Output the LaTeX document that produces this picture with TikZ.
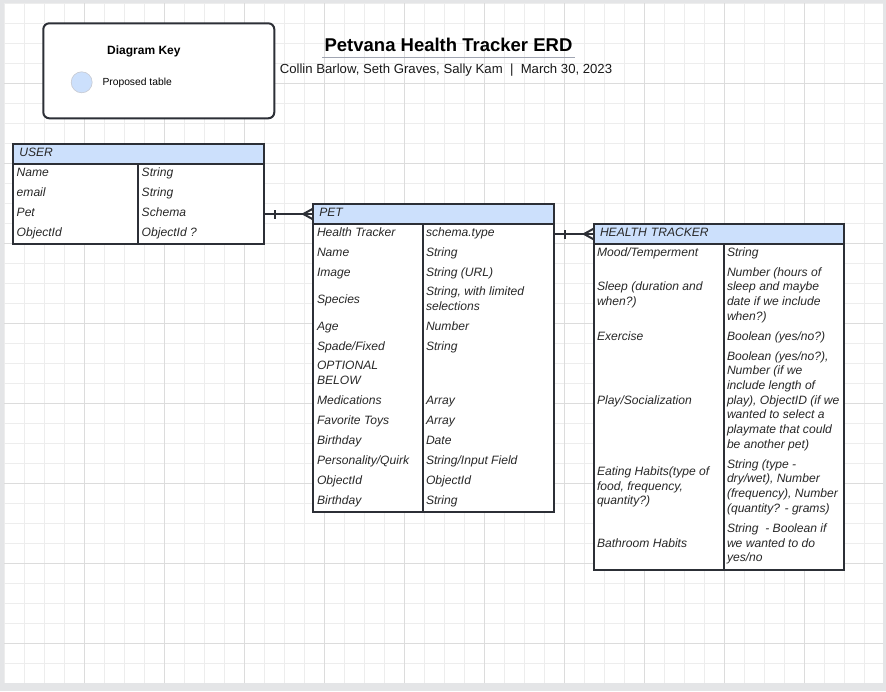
\documentclass[tikz,border=0pt]{standalone}
\usepackage{fontspec}
\setmainfont{Liberation Sans}
\usetikzlibrary{decorations.markings,positioning}

\definecolor{headblue}{RGB}{204,224,252}
\definecolor{linedark}{RGB}{44,47,54}
\definecolor{textdark}{RGB}{40,40,40}
\definecolor{pagegray}{RGB}{228,229,231}
\definecolor{gridlight}{RGB}{237,237,237}
\definecolor{griddark}{RGB}{220,220,220}
\definecolor{rulegray}{RGB}{160,165,178}
\newcommand{\erdfont}{\fontsize{12.1}{14.67}\selectfont\itshape}

\begin{document}
\begin{tikzpicture}[x=1pt,y=-1pt]
\tikzstyle{gridminor}=[draw=gridlight, line width=1pt]
\tikzstyle{gridmajor}=[draw=griddark, line width=1pt]
\tikzstyle{keybox}=[draw=linedark, line width=2pt, fill=white, rectangle, rounded corners=6pt, outer sep=0pt]
\tikzstyle{keycircle}=[draw=rulegray!60, line width=0.6pt, fill=headblue, circle, minimum size=21pt, inner sep=0pt]
\tikzstyle{tablehead}=[draw=linedark, line width=2pt, fill=headblue, rectangle, anchor=north west, outer sep=0pt, inner xsep=6pt, inner ysep=0pt, minimum height=20pt, align=left, font=\erdfont, text=textdark, execute at begin node=\strut]
\tikzstyle{tablecol}=[draw=linedark, line width=2pt, fill=white, rectangle, anchor=north west, outer sep=0pt, inner sep=0pt]
\tikzstyle{cell}=[anchor=west, inner sep=0pt, outer sep=0pt, align=left, font=\erdfont, text=textdark, execute at begin node=\strut, execute at end node=\strut]
\tikzstyle{onemany}=[draw=linedark, line width=2pt, decoration={markings, mark=at position 10.5pt with {\draw[linedark, line width=2pt] (0pt,-4.5pt) -- (0pt,4.5pt);}, mark=at position 1 with {\draw[linedark, line width=2pt] (-10pt,0pt) -- (0pt,5.5pt) (-10pt,0pt) -- (0pt,-5.5pt);}}, postaction={decorate}]

\useasboundingbox (0,0) rectangle (886,691);
\fill[pagegray] (0,0) rectangle (886,691);
\fill[white] (4,3.3) rectangle (883,683);
\foreach \gx in {0,...,43} {\draw[gridminor] ({4+20*\gx},3.3) -- ({4+20*\gx},683);}
\foreach \gy in {0,...,33} {\draw[gridminor] (4,{3.3+20*\gy}) -- (883,{3.3+20*\gy});}
\foreach \gx in {1,...,10} {\draw[gridmajor] ({4+80*\gx},3.3) -- ({4+80*\gx},683);}
\foreach \gy in {1,...,8} {\draw[gridmajor] (4,{3.3+80*\gy}) -- (883,{3.3+80*\gy});}

\node[keybox, minimum width=231pt, minimum height=95pt] (key) at (158.8,70.8) {};
\node[font=\bfseries\fontsize{12}{14}\selectfont, anchor=base, inner sep=0pt, text=black] (keytitle) at (143.9,54.3) {Diagram Key};
\node[keycircle] (sample) at (81.7,82.3) {};
\node[font=\fontsize{10.3}{12}\selectfont, anchor=base west, inner sep=0pt, text=black] (samplelabel) at (102.3,85.3) {Proposed table};

\node[font=\bfseries\fontsize{18.5}{22}\selectfont, inner xsep=2pt, inner ysep=0pt, text=black] (title) at (448.5,44.5) {Petvana Health Tracker ERD};
\draw[rulegray, line width=1.5pt] ([yshift=-6pt]title.south west) -- ([yshift=-6pt]title.south east);
\node[font=\fontsize{13.15}{15}\selectfont, anchor=base, inner sep=0pt, text=black!90] (authors) at (446,73.3) {Collin Barlow, Seth Graves, Sally Kam~~|~~March 30, 2023};

\node[tablehead, text width=239pt] (userhead) at (13.3,144) {USER};
\node[tablecol, minimum width=125pt, minimum height=80pt] (userkeys) at (userhead.south west) {};
\node[tablecol, minimum width=126pt, minimum height=80pt] (usertypes) at (userkeys.north east) {};
\node[cell] (uk1) at (16.7,174) {Name};
\node[cell] (ut1) at (141.7,174) {String};
\node[cell] (uk2) at (16.7,194) {email};
\node[cell] (ut2) at (141.7,194) {String};
\node[cell] (uk3) at (16.7,214) {Pet};
\node[cell] (ut3) at (141.7,214) {Schema};
\node[cell] (uk4) at (16.7,234) {ObjectId};
\node[cell] (ut4) at (141.7,234) {ObjectId ?};

\node[tablehead, text width=228.7pt] (pethead) at (313.3,204) {PET};
\node[tablecol, minimum width=109.4pt, minimum height=288pt] (petkeys) at (pethead.south west) {};
\node[tablecol, minimum width=131.3pt, minimum height=288pt] (pettypes) at (petkeys.north east) {};
\node[cell] (pk1) at (317,234) {Health Tracker};
\node[cell] (pt1) at (426,234) {schema.type};
\node[cell] (pk2) at (317,254) {Name};
\node[cell] (pt2) at (426,254) {String};
\node[cell] (pk3) at (317,274) {Image};
\node[cell] (pt3) at (426,274) {String (URL)};
\node[cell] (pk4) at (317,301) {Species};
\node[cell] (pt4) at (426,301) {String, with limited\\selections};
\node[cell] (pk5) at (317,328) {Age};
\node[cell] (pt5) at (426,328) {Number};
\node[cell] (pk6) at (317,348) {Spade/Fixed};
\node[cell] (pt6) at (426,348) {String};
\node[cell] (pk7) at (317,375) {OPTIONAL\\BELOW};
\node[cell] (pk8) at (317,402) {Medications};
\node[cell] (pt8) at (426,402) {Array};
\node[cell] (pk9) at (317,422) {Favorite Toys};
\node[cell] (pt9) at (426,422) {Array};
\node[cell] (pk10) at (317,442) {Birthday};
\node[cell] (pt10) at (426,442) {Date};
\node[cell] (pk11) at (317,462) {Personality/Quirk};
\node[cell] (pt11) at (426,462) {String/Input Field};
\node[cell] (pk12) at (317,482) {ObjectId};
\node[cell] (pt12) at (426,482) {ObjectId};
\node[cell] (pk13) at (317,502) {Birthday};
\node[cell] (pt13) at (426,502) {String};

\node[tablehead, text width=238pt] (trackerhead) at (594,224) {HEALTH TRACKER};
\node[tablecol, minimum width=130pt, minimum height=326pt] (trackerkeys) at (trackerhead.south west) {};
\node[tablecol, minimum width=120pt, minimum height=326pt] (trackertypes) at (trackerkeys.north east) {};
\node[cell] (hk1) at (597,254) {Mood/Temperment};
\node[cell] (ht1) at (727,254) {String};
\node[cell] (hk2) at (597,296) {Sleep (duration and\\when?)};
\node[cell] (ht2) at (727,296) {Number (hours of\\sleep and maybe\\date if we include\\when?)};
\node[cell] (hk3) at (597,338) {Exercise};
\node[cell] (ht3) at (727,338) {Boolean (yes/no?)};
\node[cell] (hk4) at (597,402) {Play/Socialization};
\node[cell] (ht4) at (727,402) {Boolean (yes/no?),\\Number (if we\\include length of\\play), ObjectID (if we\\wanted to select a\\playmate that could\\be another pet)};
\node[cell] (hk5) at (597,488) {Eating Habits(type of\\food, frequency,\\quantity?)};
\node[cell] (ht5) at (727,488) {String (type -\\dry/wet), Number\\(frequency), Number\\(quantity? - grams)};
\node[cell] (hk6) at (597,545) {Bathroom Habits};
\node[cell] (ht6) at (727,545) {String~~- Boolean if\\we wanted to do\\yes/no};

\draw[onemany] (usertypes.east |- pethead.west) -- (pethead.west);
\draw[onemany] (pettypes.east |- trackerhead.west) -- (trackerhead.west);

\end{tikzpicture}
\end{document}
